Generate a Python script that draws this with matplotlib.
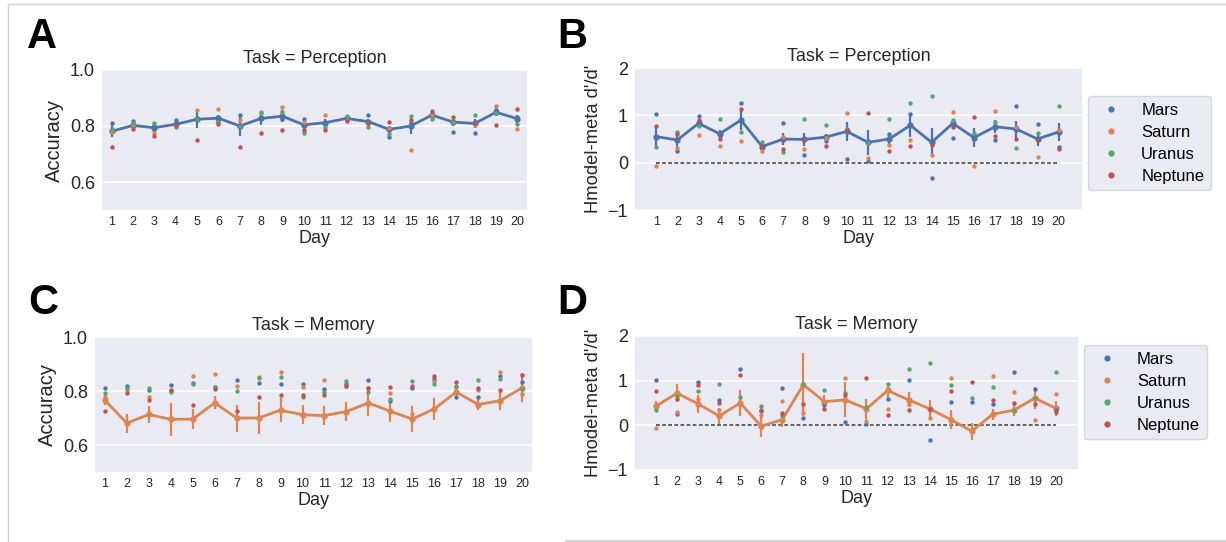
import numpy as np
import matplotlib
matplotlib.use("Agg")
import matplotlib.pyplot as plt
from matplotlib.lines import Line2D

plt.rcParams['font.family'] = ['Liberation Sans', 'DejaVu Sans']

days = list(range(1, 21))
subjects = ["Mars", "Saturn", "Uranus", "Neptune"]
palette = ["#4C72B0", "#DD8452", "#55A868", "#C44E52"]

# per-subject accuracy (same dots shown in A and C)
acc_mars    = [0.812, 0.818, 0.805, 0.822, 0.830, 0.815, 0.839, 0.829, 0.826, 0.826,
               0.807, 0.825, 0.839, 0.762, 0.810, 0.844, 0.779, 0.776, 0.856, 0.832]
acc_saturn  = [0.779, 0.805, 0.776, 0.800, 0.856, 0.862, 0.820, 0.851, 0.869, 0.816,
               0.839, 0.820, 0.810, 0.794, 0.715, 0.838, 0.816, 0.804, 0.870, 0.788]
acc_uranus  = [0.791, 0.810, 0.812, 0.797, 0.826, 0.814, 0.800, 0.847, 0.851, 0.776,
               0.797, 0.837, 0.797, 0.770, 0.837, 0.825, 0.818, 0.841, 0.845, 0.807]
acc_neptune = [0.726, 0.791, 0.766, 0.805, 0.750, 0.807, 0.726, 0.776, 0.785, 0.784,
               0.785, 0.818, 0.812, 0.814, 0.820, 0.854, 0.832, 0.810, 0.804, 0.860]

# per-subject Hmodel-meta d'/d' (same dots shown in B and D)
hm_mars    = [1.02, 0.25, 0.98, 0.57, 1.27, 0.31, 0.83, 0.16, 0.46, 0.07,
              0.04, 0.60, 1.02, -0.33, 0.53, 0.53, 0.47, 1.19, 0.81, 0.34]
hm_saturn  = [-0.06, 0.30, 0.59, 0.35, 0.46, 0.24, 0.55, 0.28, 0.52, 1.05,
              0.10, 0.37, 0.47, 0.17, 1.06, -0.08, 1.10, 0.75, 0.12, 0.70]
hm_uranus  = [0.34, 0.65, 0.77, 0.93, 0.64, 0.43, 0.23, 0.92, 0.80, 0.72,
              0.42, 0.93, 1.27, 1.40, 0.91, 0.62, 0.86, 0.32, 0.62, 1.19]
hm_neptune = [0.77, 0.60, 0.91, 0.51, 1.13, 0.35, 0.28, 0.47, 0.36, 0.68,
              1.05, 0.24, 0.35, 0.37, 0.76, 0.97, 0.56, 0.51, 0.47, 0.29]

# line means and error bar half-widths per panel
acc_perc_mean = [0.781, 0.802, 0.794, 0.806, 0.824, 0.828, 0.800, 0.827, 0.835, 0.804,
                 0.812, 0.827, 0.816, 0.788, 0.800, 0.839, 0.814, 0.809, 0.849, 0.826]
acc_perc_err  = [0.022, 0.010, 0.015, 0.010, 0.030, 0.013, 0.035, 0.025, 0.022, 0.015,
                 0.012, 0.006, 0.010, 0.012, 0.030, 0.010, 0.013, 0.015, 0.015, 0.015]
acc_mem_mean  = [0.766, 0.681, 0.713, 0.695, 0.696, 0.756, 0.700, 0.700, 0.729, 0.712,
                 0.709, 0.724, 0.756, 0.725, 0.696, 0.734, 0.796, 0.750, 0.764, 0.812]
acc_mem_err   = [0.019, 0.035, 0.030, 0.060, 0.036, 0.024, 0.050, 0.060, 0.045, 0.036,
                 0.036, 0.034, 0.048, 0.038, 0.049, 0.040, 0.012, 0.022, 0.035, 0.054]
hm_perc_mean  = [0.55, 0.48, 0.83, 0.61, 0.90, 0.34, 0.50, 0.49, 0.54, 0.66,
                 0.43, 0.50, 0.79, 0.43, 0.83, 0.53, 0.76, 0.71, 0.50, 0.65]
hm_perc_err   = [0.22, 0.15, 0.10, 0.09, 0.22, 0.06, 0.12, 0.14, 0.07, 0.20,
                 0.27, 0.12, 0.25, 0.30, 0.10, 0.20, 0.14, 0.18, 0.14, 0.19]
hm_mem_mean   = [0.43, 0.72, 0.48, 0.21, 0.50, -0.02, 0.13, 0.91, 0.53, 0.57,
                 0.37, 0.78, 0.57, 0.37, 0.13, -0.13, 0.25, 0.34, 0.61, 0.38]
hm_mem_err    = [0.11, 0.20, 0.20, 0.17, 0.30, 0.25, 0.16, 0.70, 0.14, 0.39,
                 0.22, 0.17, 0.17, 0.20, 0.22, 0.19, 0.12, 0.12, 0.25, 0.17]

acc_dots = [acc_mars, acc_saturn, acc_uranus, acc_neptune]
hm_dots = [hm_mars, hm_saturn, hm_uranus, hm_neptune]

fig = plt.figure(figsize=(12.26, 5.42), dpi=100)
W, H = 1226, 542

def add_axes(left, right, top, bottom):
    return fig.add_axes([left / W, 1 - bottom / H, (right - left) / W, (bottom - top) / H])

def panel(ax, dots, mean, err, color, title, ylabel, ylsize, ylim, yticks, xlim, zero=False):
    x = np.arange(len(days))
    ax.set_facecolor("#EAEAF2")
    for s in ax.spines.values():
        s.set_visible(False)
    ax.yaxis.grid(True, color="white", lw=1.1)
    ax.xaxis.grid(False)
    ax.set_axisbelow(True)
    if zero:
        ax.plot([x[0], x[-1]], [0, 0], color="#3a3a3a", lw=1.1, dashes=(2.5, 1.5), zorder=2)
    ax.errorbar(x, mean, yerr=err, color=color, lw=2.0, elinewidth=1.6,
                marker="o", ms=3.5, capsize=0, zorder=3)
    for vals, c in zip(dots, palette):
        ax.scatter(x, vals, s=10, color=c, linewidths=0, zorder=4)
    ax.set_xlim(*xlim)
    ax.set_ylim(*ylim)
    ax.set_yticks(yticks)
    ax.set_xticks(x)
    ax.set_xticklabels([str(d) for d in days], fontsize=9, color="#262626")
    ax.tick_params(axis="y", labelsize=13, length=0, pad=5, labelcolor="#262626")
    ax.tick_params(axis="x", length=0, pad=4)
    ax.set_title(title, fontsize=13, color="#262626", pad=5)
    ax.set_xlabel("Day", fontsize=13, color="#262626", labelpad=2)
    ax.set_ylabel(ylabel, fontsize=ylsize, color="#262626", labelpad=4)

axA = add_axes(102, 527, 70, 210)
axB = add_axes(635, 1082, 68, 210)
axC = add_axes(95, 532, 337, 472)
axD = add_axes(635, 1078, 336, 470)

panel(axA, acc_dots, acc_perc_mean, acc_perc_err, palette[0], "Task = Perception",
      "Accuracy", 14.5, (0.5, 1.0), [0.6, 0.8, 1.0], (-0.45, 19.45))
panel(axB, hm_dots, hm_perc_mean, hm_perc_err, palette[0], "Task = Perception",
      "Hmodel-meta d'/d'", 13.2, (-1, 2), [-1, 0, 1, 2], (-1.0, 20.1), zero=True)
panel(axC, acc_dots, acc_mem_mean, acc_mem_err, palette[1], "Task = Memory",
      "Accuracy", 14.5, (0.5, 1.0), [0.6, 0.8, 1.0], (-0.45, 19.45))
panel(axD, hm_dots, hm_mem_mean, hm_mem_err, palette[1], "Task = Memory",
      "Hmodel-meta d'/d'", 13.2, (-1, 2), [-1, 0, 1, 2], (-1.0, 20.05), zero=True)

handles = [Line2D([], [], marker="o", ls="", ms=4.5, color=c, markeredgewidth=0) for c in palette]
for ax, yc in ((axB, 0.47), (axD, 0.58)):
    ax.legend(handles, subjects, loc="center left", bbox_to_anchor=(1.013, yc),
              borderaxespad=0, fontsize=12, facecolor="#EAEAF2", edgecolor="#d6d6de",
              labelspacing=0.42, framealpha=1)

for letter, px, py in [("A", 27, 48), ("B", 557, 48), ("C", 28, 314), ("D", 557, 314)]:
    fig.text(px / W, 1 - py / H, letter, fontsize=30, fontweight="bold",
             ha="left", va="baseline", color="black")

# thin screenshot frame lines
border = "#d2d2d2"
fig.add_artist(Line2D([7.5 / W, 7.5 / W], [0, 1 - 4 / H], transform=fig.transFigure, color=border, lw=1))
fig.add_artist(Line2D([7.5 / W, 1], [1 - 4 / H, 1 - 4 / H], transform=fig.transFigure, color=border, lw=1))
fig.add_artist(Line2D([566 / W, 1], [1.5 / H, 1.5 / H], transform=fig.transFigure, color=border, lw=1.5))

fig.savefig("out.png", dpi=100)
